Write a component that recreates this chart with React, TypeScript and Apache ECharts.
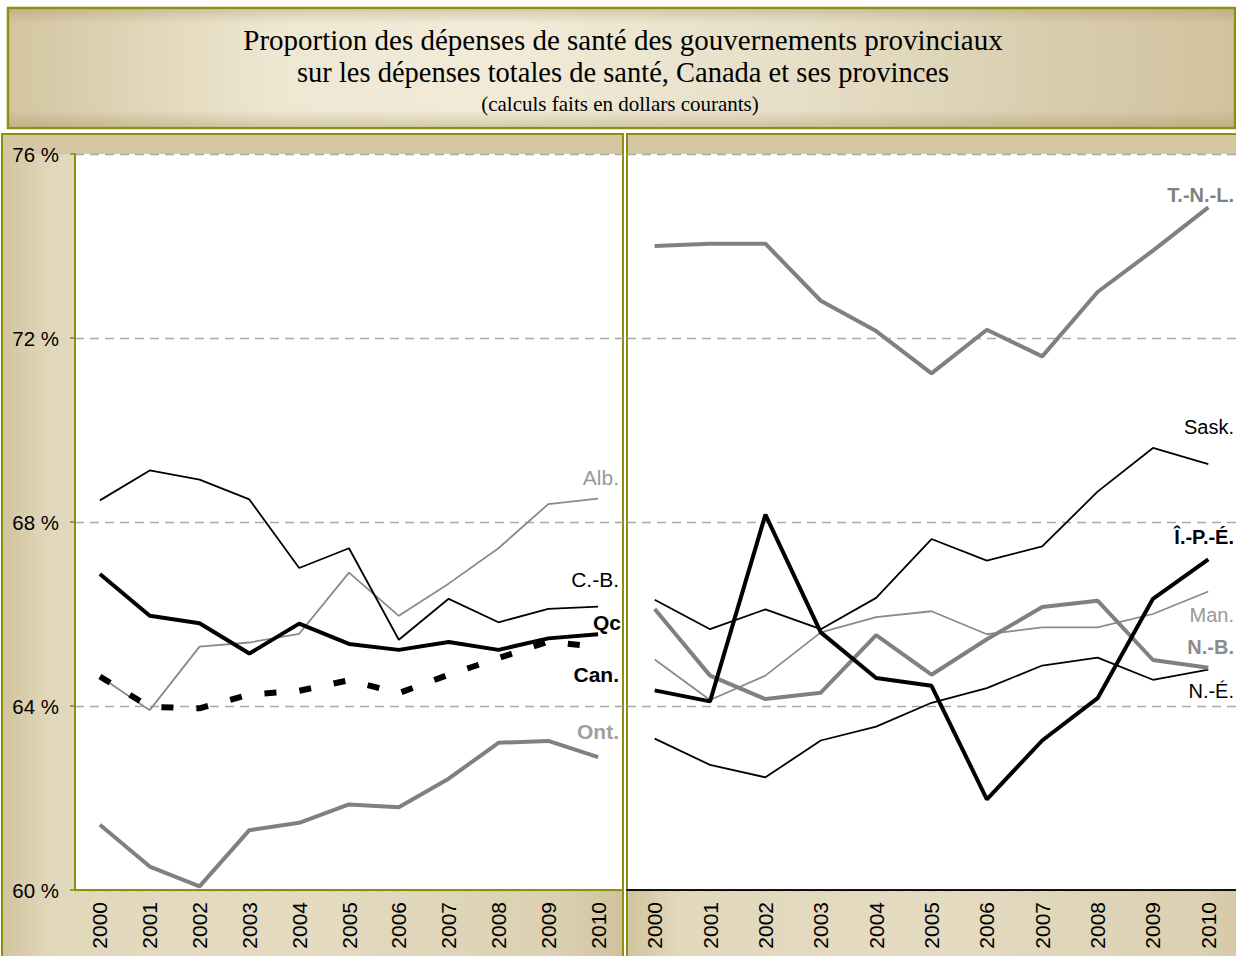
import React, { useEffect, useRef } from "react";
import * as echarts from "echarts";

const years = ["2000", "2001", "2002", "2003", "2004", "2005", "2006", "2007", "2008", "2009", "2010"];
const yMin = 60;
const yMax = 76;
const yStep = 4;

// Left panel: Canada, Québec, Ontario, Alberta, Colombie-Britannique
const cb = [68.47, 69.12, 68.92, 68.49, 67.0, 67.43, 65.44, 66.33, 65.82, 66.11, 66.16];
const alb = [64.64, 63.91, 65.29, 65.38, 65.57, 66.9, 65.96, 66.66, 67.43, 68.39, 68.51];
const qc = [66.87, 65.96, 65.8, 65.14, 65.79, 65.35, 65.22, 65.39, 65.22, 65.47, 65.56];
const can = [64.64, 63.98, 63.95, 64.25, 64.33, 64.56, 64.28, 64.68, 65.04, 65.4, 65.28];
const ont = [61.42, 60.51, 60.08, 61.3, 61.46, 61.86, 61.8, 62.42, 63.2, 63.24, 62.89];

// Right panel: other provinces
const tnl = [74.0, 74.05, 74.05, 72.81, 72.15, 71.23, 72.18, 71.6, 73.0, 73.9, 74.84];
const sask = [66.31, 65.67, 66.1, 65.67, 66.35, 67.63, 67.16, 67.47, 68.66, 69.61, 69.26];
const ipe = [64.34, 64.1, 68.16, 65.6, 64.61, 64.44, 61.97, 63.25, 64.17, 66.33, 67.19];
const man = [65.01, 64.13, 64.66, 65.6, 65.93, 66.06, 65.56, 65.71, 65.71, 66.0, 66.49];
const nb = [66.11, 64.66, 64.15, 64.29, 65.54, 64.68, 65.45, 66.15, 66.29, 65.0, 64.83];
const ne = [63.29, 62.72, 62.45, 63.25, 63.55, 64.07, 64.39, 64.88, 65.05, 64.57, 64.79];

const titleLines = [
  "Proportion des dépenses de santé des gouvernements provinciaux",
  "sur les dépenses totales de santé, Canada et ses provinces",
];
const subTitle = "(calculs faits en dollars courants)";

const SANS = "'Liberation Sans', Arial, sans-serif";
const SERIF = "'Liberation Serif', 'Times New Roman', serif";
const OLIVE = "#8e8e10";
const BLACK = "#000000";
const GREY_THICK = "#808080";
const GREY_THIN = "#8a8a8a";

function tanGradient() {
  return new echarts.graphic.LinearGradient(0, 0, 1, 0, [
    { offset: 0, color: "#d1c39e" },
    { offset: 0.08, color: "#e2d8bc" },
    { offset: 0.5, color: "#e4dbc1" },
    { offset: 0.9, color: "#dbd0b1" },
    { offset: 1, color: "#d0c29d" },
  ]);
}

export default function App() {
  const ref = useRef<HTMLDivElement>(null);

  useEffect(() => {
    if (!ref.current) return;
    const chart = echarts.init(ref.current, undefined, { renderer: "svg" });

    const thin = (name: string, data: number[], color: string, xi: number) => ({
      name,
      type: "line",
      xAxisIndex: xi,
      yAxisIndex: xi,
      data,
      symbol: "none",
      lineStyle: { color, width: 1.8 },
    });
    const thick = (name: string, data: number[], color: string, xi: number) => ({
      name,
      type: "line",
      xAxisIndex: xi,
      yAxisIndex: xi,
      data,
      symbol: "none",
      lineStyle: { color, width: 4 },
    });

    const lab = (
      text: string,
      x: number,
      y: number,
      color: string,
      bold: boolean,
      size: number
    ) => ({
      type: "text",
      x,
      y,
      z: 100,
      style: {
        text,
        fill: color,
        font: `${bold ? "bold " : ""}${size}px ${SANS}`,
        textAlign: "right",
        textVerticalAlign: "middle",
      },
    });

    const yAxisCommon = {
      type: "value",
      min: yMin,
      max: yMax,
      interval: yStep,
      splitLine: {
        show: true,
        lineStyle: { color: "#a8a8a8", width: 1.3, type: [9, 6] },
      },
    };

    const xLabel = { rotate: 90, fontSize: 21, color: BLACK, fontFamily: SANS, margin: 12 };

    const option = {
      animation: false,
      backgroundColor: "#ffffff",
      grid: [
        { left: 75, top: 154, width: 548, height: 736, containLabel: false },
        { left: 627, top: 154, width: 612, height: 736, containLabel: false },
      ],
      xAxis: [
        {
          type: "category",
          gridIndex: 0,
          data: years,
          boundaryGap: true,
          axisLine: { show: true, lineStyle: { color: OLIVE, width: 2 } },
          axisTick: { show: false },
          axisLabel: xLabel,
        },
        {
          type: "category",
          gridIndex: 1,
          data: years,
          boundaryGap: true,
          axisLine: { show: true, lineStyle: { color: "#111111", width: 2 } },
          axisTick: { show: false },
          axisLabel: xLabel,
        },
      ],
      yAxis: [
        {
          ...yAxisCommon,
          gridIndex: 0,
          axisLine: { show: true, lineStyle: { color: OLIVE, width: 2 } },
          axisTick: { show: true, length: 5, lineStyle: { color: OLIVE, width: 1.5 } },
          axisLabel: {
            formatter: (v: number) => `${v} %`,
            fontSize: 20.5,
            color: BLACK,
            fontFamily: SANS,
            margin: 16,
          },
        },
        {
          ...yAxisCommon,
          gridIndex: 1,
          axisLine: { show: false },
          axisTick: { show: false },
          axisLabel: { show: false },
        },
      ],
      graphic: [
        // title box
        {
          type: "rect",
          z: -10,
          shape: { x: 8, y: 8, width: 1227, height: 120 },
          style: {
            fill: new echarts.graphic.LinearGradient(0, 0, 1, 0, [
              { offset: 0, color: "#d3c5a0" },
              { offset: 0.22, color: "#eee7d2" },
              { offset: 0.4, color: "#f1ebd8" },
              { offset: 0.65, color: "#e6dec6" },
              { offset: 0.85, color: "#d9cdae" },
              { offset: 1, color: "#d1c39e" },
            ]),
            stroke: OLIVE,
            lineWidth: 2.5,
          },
        },
        {
          type: "rect",
          z: -9,
          shape: { x: 9.5, y: 9.5, width: 1224, height: 117 },
          style: {
            fill: new echarts.graphic.LinearGradient(0, 0, 0, 1, [
              { offset: 0, color: "rgba(150,130,80,0.28)" },
              { offset: 0.12, color: "rgba(150,130,80,0)" },
              { offset: 0.86, color: "rgba(150,130,80,0)" },
              { offset: 1, color: "rgba(150,130,80,0.3)" },
            ]),
          },
        },
        // left panel
        {
          type: "rect",
          z: -10,
          shape: { x: 2, y: 134, width: 621, height: 840 },
          style: { fill: tanGradient(), stroke: OLIVE, lineWidth: 2 },
        },
        {
          type: "rect",
          z: -9,
          shape: { x: 3, y: 135, width: 619, height: 19 },
          style: { fill: "#d4c7a2" },
        },
        {
          type: "rect",
          z: -8,
          shape: { x: 75, y: 154, width: 547, height: 736 },
          style: { fill: "#ffffff" },
        },
        // right panel
        {
          type: "rect",
          z: -10,
          shape: { x: 627, y: 134, width: 640, height: 840 },
          style: { fill: tanGradient(), stroke: OLIVE, lineWidth: 2 },
        },
        {
          type: "rect",
          z: -9,
          shape: { x: 628, y: 135, width: 620, height: 19 },
          style: { fill: "#d4c7a2" },
        },
        {
          type: "rect",
          z: -8,
          shape: { x: 628, y: 154, width: 620, height: 736 },
          style: { fill: "#ffffff" },
        },
        // title texts
        {
          type: "text",
          x: 623,
          y: 40,
          z: 100,
          style: { text: titleLines[0], font: `29px ${SERIF}`, fill: BLACK, textAlign: "center", textVerticalAlign: "middle" },
        },
        {
          type: "text",
          x: 623,
          y: 72,
          z: 100,
          style: { text: titleLines[1], font: `28.5px ${SERIF}`, fill: BLACK, textAlign: "center", textVerticalAlign: "middle" },
        },
        {
          type: "text",
          x: 620,
          y: 104,
          z: 100,
          style: { text: subTitle, font: `21px ${SERIF}`, fill: BLACK, textAlign: "center", textVerticalAlign: "middle" },
        },
        // series labels – left panel
        lab("Alb.", 619, 477, "#999999", false, 21),
        lab("C.-B.", 619, 579, BLACK, false, 21),
        lab("Qc", 621, 622, BLACK, true, 21),
        lab("Can.", 619, 674, BLACK, true, 21),
        lab("Ont.", 619, 731, "#a0a0a0", true, 21),
        // series labels – right panel
        lab("T.-N.-L.", 1234, 195, GREY_THICK, true, 20),
        lab("Sask.", 1234, 427, BLACK, false, 20),
        lab("Î.-P.-É.", 1234, 537, BLACK, true, 20),
        lab("Man.", 1234, 615, "#9a9a9a", false, 20),
        lab("N.-B.", 1234, 647, "#8c8c8c", true, 20),
        lab("N.-É.", 1234, 691, BLACK, false, 20),
      ],
      series: [
        thick("Ont.", ont, GREY_THICK, 0),
        thin("Alb.", alb, GREY_THIN, 0),
        thin("C.-B.", cb, BLACK, 0),
        thick("Qc", qc, BLACK, 0),
        {
          name: "Can.",
          type: "line",
          xAxisIndex: 0,
          yAxisIndex: 0,
          data: can,
          symbol: "none",
          lineStyle: { color: BLACK, width: 6, type: [12, 23], cap: "butt" },
        },
        thin("Man.", man, GREY_THIN, 1),
        thin("N.-É.", ne, BLACK, 1),
        thin("Sask.", sask, BLACK, 1),
        thick("N.-B.", nb, GREY_THICK, 1),
        thick("T.-N.-L.", tnl, GREY_THICK, 1),
        thick("Î.-P.-É.", ipe, BLACK, 1),
      ],
    };

    chart.setOption(option as any);
    return () => chart.dispose();
  }, []);

  return (
    <div
      ref={ref}
      style={{ position: "absolute", left: 0, top: 0, width: 1236, height: 956 }}
    />
  );
}
